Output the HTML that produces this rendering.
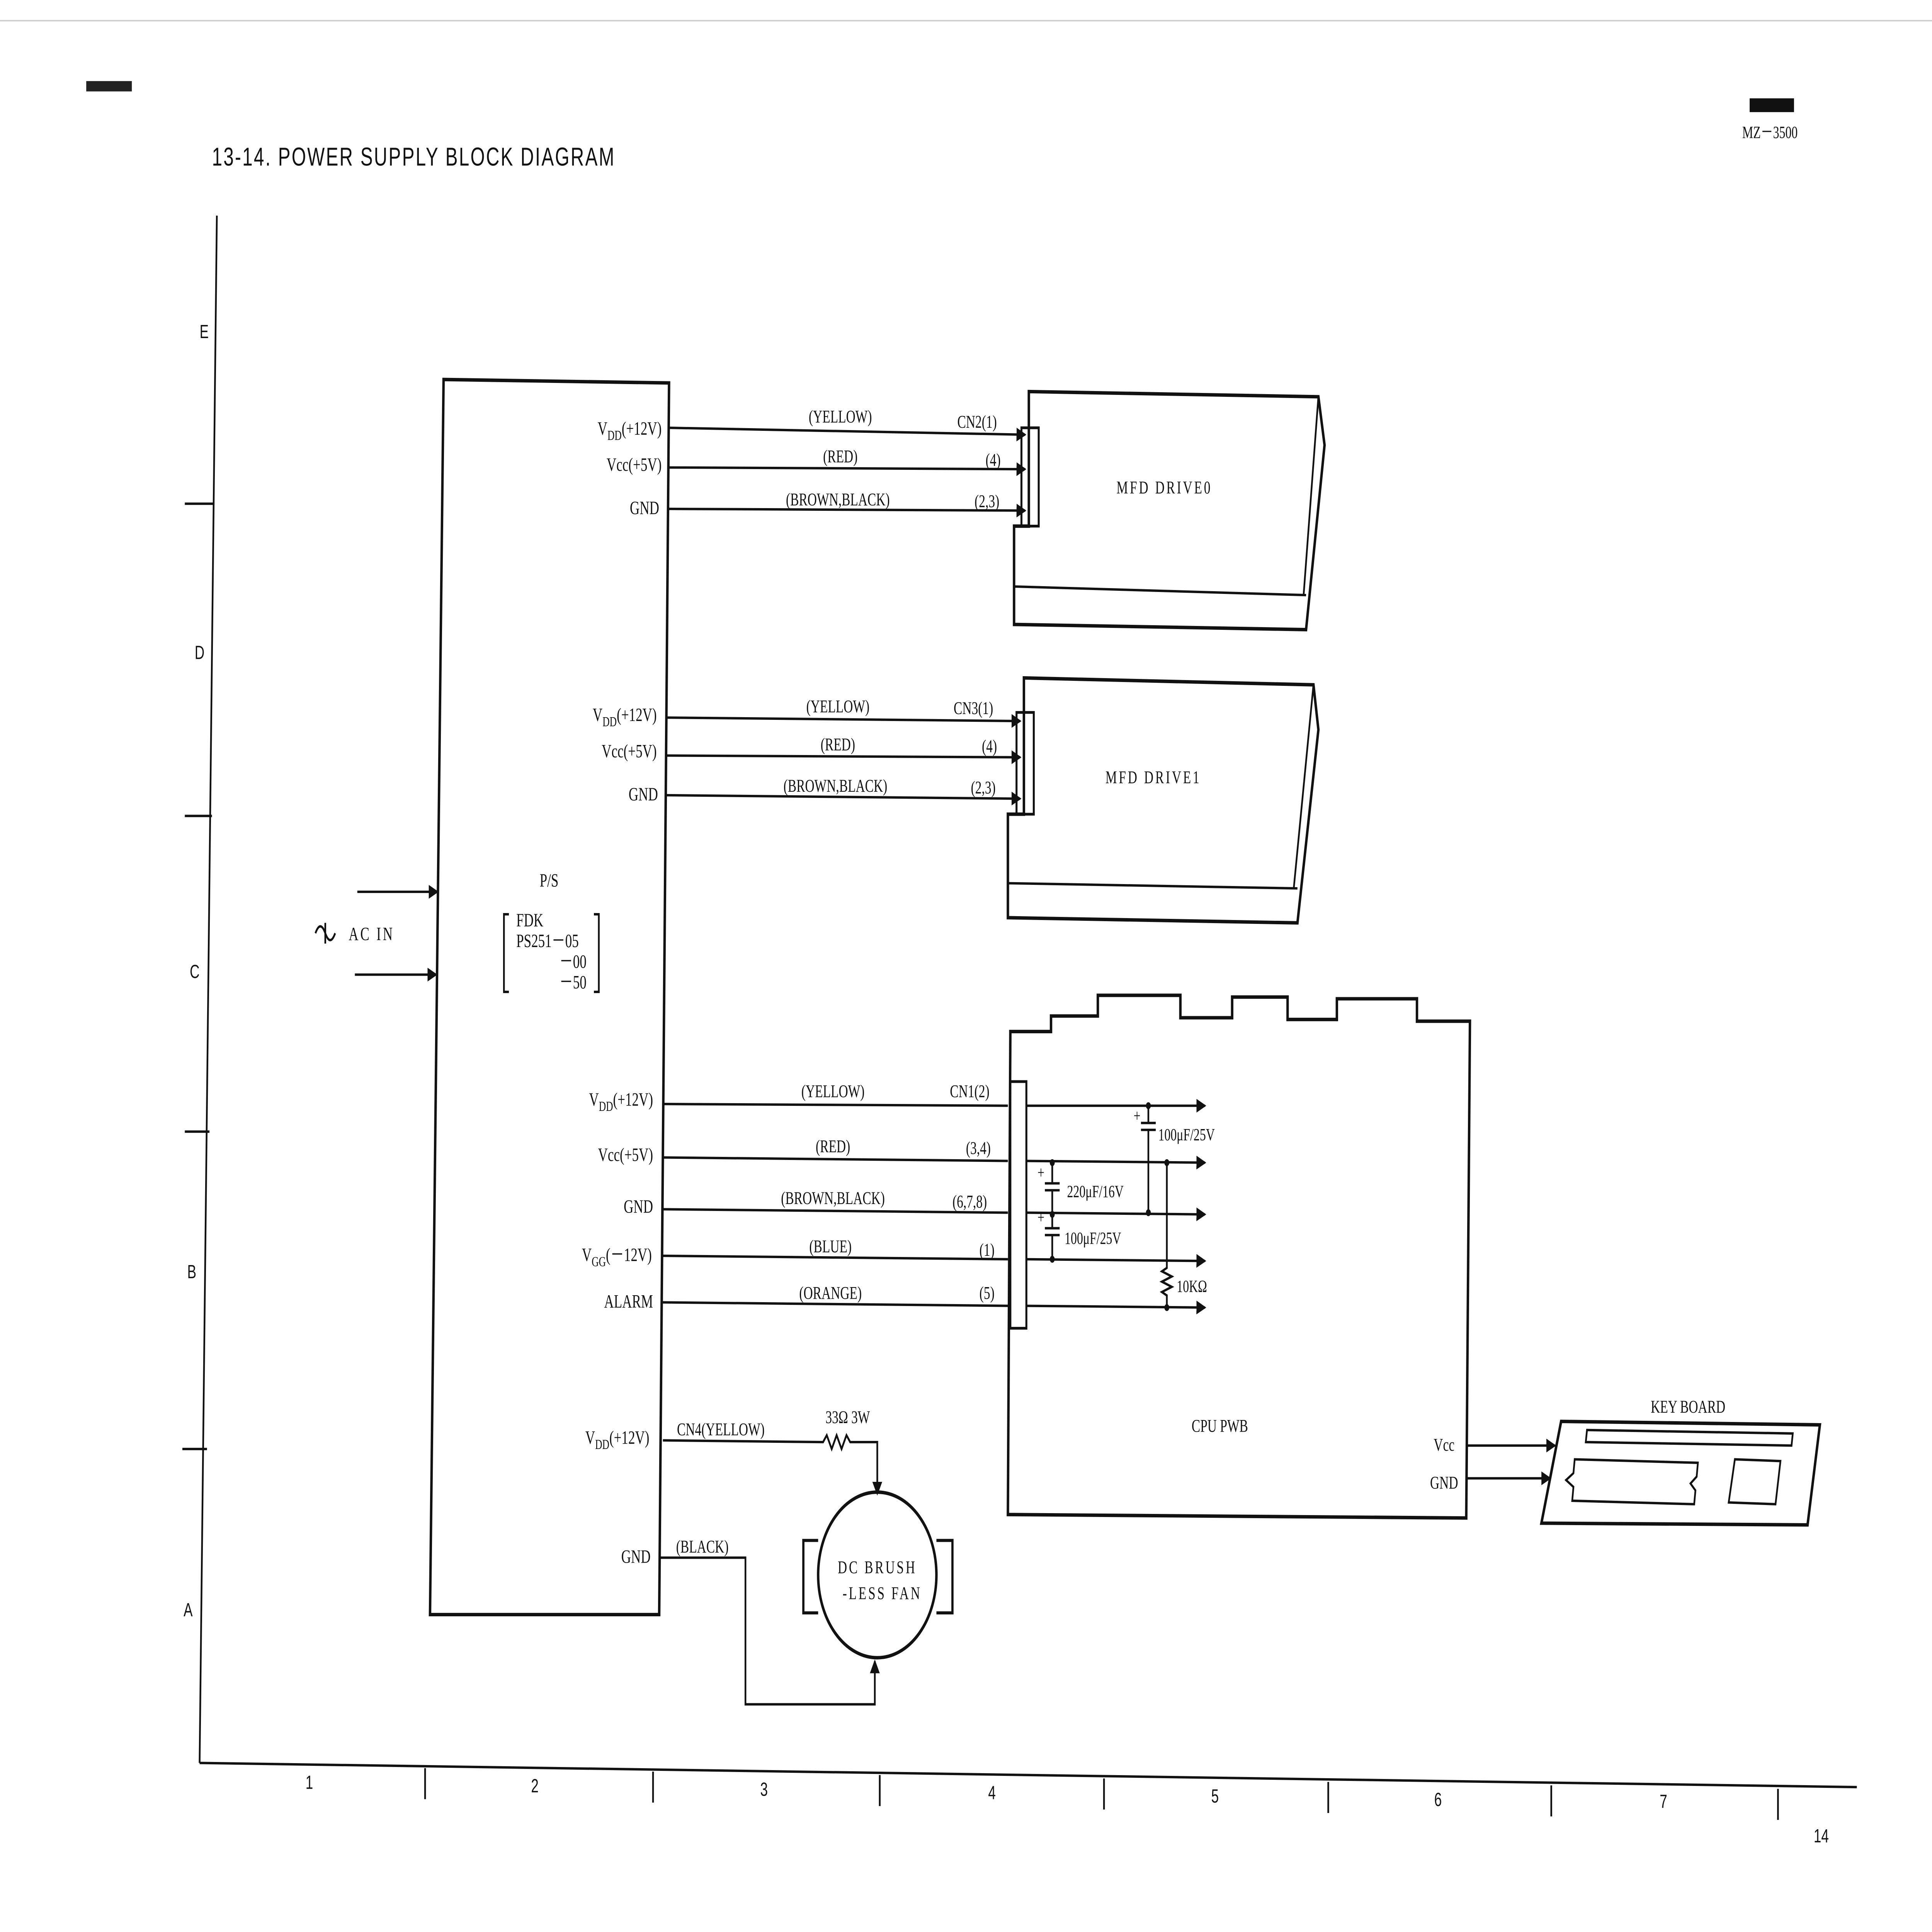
<!DOCTYPE html>
<html><head><meta charset="utf-8"><style>html,body{margin:0;padding:0;background:#fff;width:100%;height:100%;overflow:hidden}svg{display:block;position:fixed;left:0;top:0;width:100vw;height:100vh}</style></head><body>
<svg viewBox="0 0 1568 1120" preserveAspectRatio="none" xmlns="http://www.w3.org/2000/svg" font-family="'Liberation Serif',serif" fill="none" stroke="#111" stroke-width="1.4">
<defs><marker id="a" markerWidth="8" markerHeight="8" refX="7" refY="4" orient="auto" markerUnits="userSpaceOnUse"><path d="M0,0 L8,4 L0,8 Z" fill="#111" stroke="none"/></marker></defs>
<line x1="0" y1="12" x2="1568" y2="12" stroke="#ccc" stroke-width="0.8"/>
<rect x="70" y="47" width="37" height="6" fill="#222" stroke="none"/>
<rect x="1420" y="57" width="36" height="8" fill="#111" stroke="none"/>
<g fill="#111" stroke="none">
<text x="172" y="96" font-family="'Liberation Sans',sans-serif" font-size="15" letter-spacing="1">13-14. POWER SUPPLY BLOCK DIAGRAM</text>
<text x="1414" y="80" font-size="10">MZ－3500</text>
<g font-family="'Liberation Sans',sans-serif" font-size="11">
<text x="162" y="196">E</text><text x="158" y="382">D</text><text x="154" y="567">C</text><text x="152" y="741">B</text><text x="149" y="937">A</text>
<text x="248" y="1037">1</text><text x="431" y="1039">2</text><text x="617" y="1041">3</text><text x="802" y="1043">4</text><text x="983" y="1045">5</text><text x="1164" y="1047">6</text><text x="1347" y="1048">7</text><text x="1472" y="1068">14</text>
</g></g>
<line x1="176" y1="125" x2="162" y2="1022"/>
<line x1="162" y1="1022" x2="1507" y2="1036"/>
<g><line x1="150" y1="292" x2="174" y2="292"/><line x1="150" y1="473" x2="172" y2="473"/><line x1="150" y1="656" x2="170" y2="656"/><line x1="148" y1="840" x2="168" y2="840"/>
<line x1="345" y1="1025" x2="345" y2="1043"/><line x1="530" y1="1027" x2="530" y2="1045"/><line x1="714" y1="1029" x2="714" y2="1047"/><line x1="896" y1="1031" x2="896" y2="1049"/><line x1="1078" y1="1033" x2="1078" y2="1051"/><line x1="1259" y1="1035" x2="1259" y2="1053"/><line x1="1443" y1="1037" x2="1443" y2="1055"/></g>
<polygon points="360,220 543,222 535,936 349,936" stroke-width="2"/>
<g fill="#111" stroke="none" font-size="11">
<text x="438" y="514">P/S</text>
<text x="419" y="537">FDK</text><text x="419" y="549">PS251－05</text><text x="454" y="561">－00</text><text x="454" y="573">－50</text>
<text x="283" y="545" letter-spacing="1.5">AC IN</text>
</g>
<path d="M413,530 h-4 v45 h4 M482,530 h4 v45 h-4"/>
<path d="M256,541 q4,-8 8,0 t8,0 M264,535 v12"/>
<line x1="290" y1="517" x2="355" y2="517" marker-end="url(#a)"/>
<line x1="288" y1="565" x2="354" y2="565" marker-end="url(#a)"/>
<g fill="#111" stroke="none" font-size="11" text-anchor="end">
<text x="537" y="252">V<tspan font-size="8" dy="3">DD</tspan><tspan dy="-3">(+12V)</tspan></text><text x="537" y="273">Vcc(+5V)</text><text x="535" y="298">GND</text>
<text x="533" y="418">V<tspan font-size="8" dy="3">DD</tspan><tspan dy="-3">(+12V)</tspan></text><text x="533" y="439">Vcc(+5V)</text><text x="534" y="464">GND</text>
<text x="530" y="641">V<tspan font-size="8" dy="3">DD</tspan><tspan dy="-3">(+12V)</tspan></text><text x="530" y="673">Vcc(+5V)</text><text x="530" y="703">GND</text><text x="529" y="731">V<tspan font-size="8" dy="3">GG</tspan><tspan dy="-3">(－12V)</tspan></text><text x="530" y="758">ALARM</text>
<text x="527" y="837">V<tspan font-size="8" dy="3">DD</tspan><tspan dy="-3">(+12V)</tspan></text><text x="528" y="906">GND</text>
</g>
<g fill="#111" stroke="none" font-size="10.5" text-anchor="middle">
<text x="682" y="245">(YELLOW)</text><text x="682" y="268">(RED)</text><text x="680" y="293">(BROWN,BLACK)</text>
<text x="793" y="248">CN2(1)</text><text x="806" y="270">(4)</text><text x="801" y="294">(2,3)</text>
<text x="680" y="413">(YELLOW)</text><text x="680" y="435">(RED)</text><text x="678" y="459">(BROWN,BLACK)</text>
<text x="790" y="414">CN3(1)</text><text x="803" y="436">(4)</text><text x="798" y="460">(2,3)</text>
<text x="676" y="636">(YELLOW)</text><text x="676" y="668">(RED)</text><text x="676" y="698">(BROWN,BLACK)</text><text x="674" y="726">(BLUE)</text><text x="674" y="753">(ORANGE)</text>
<text x="787" y="636">CN1(2)</text><text x="794" y="669">(3,4)</text><text x="787" y="700">(6,7,8)</text><text x="801" y="728">(1)</text><text x="801" y="753">(5)</text>
<text x="585" y="832">CN4(YELLOW)</text><text x="570" y="900">(BLACK)</text><text x="688" y="825">33Ω 3W</text>
<text x="945" y="286" letter-spacing="1.5">MFD DRIVE0</text><text x="936" y="454" letter-spacing="1.5">MFD DRIVE1</text>
<text x="990" y="830">CPU PWB</text>
<text x="712" y="912" letter-spacing="1.5">DC BRUSH</text><text x="716" y="927" letter-spacing="1.5">-LESS FAN</text>
<text x="1370" y="819">KEY BOARD</text>
<text x="1172" y="841">Vcc</text><text x="1172" y="863">GND</text>
</g>
<g font-size="10" fill="#111" stroke="none"><text x="940" y="661">100μF/25V</text><text x="866" y="694">220μF/16V</text><text x="864" y="721">100μF/25V</text><text x="955" y="749">10KΩ</text></g>
<g marker-end="url(#a)">
<line x1="543" y1="248" x2="832" y2="252"/><line x1="543" y1="271" x2="832" y2="272"/><line x1="543" y1="295" x2="832" y2="296"/>
<line x1="541" y1="416" x2="828" y2="418"/><line x1="541" y1="438" x2="828" y2="439"/><line x1="541" y1="461" x2="828" y2="463"/>
</g>
<path d="M835,227 L1070,230 L1075,258 L1060,365 L823,362 L823,305 L835,305 Z" stroke-width="2"/>
<path d="M823,340 L1060,345 M1070,230 L1058,345"/>
<rect x="829" y="248" width="14" height="57" stroke-width="1.6"/>
<path d="M831,393 L1066,397 L1070,423 L1053,535 L818,532 L818,472 L831,472 Z" stroke-width="2"/>
<path d="M818,512 L1053,515 M1066,397 L1050,515"/>
<rect x="825" y="413" width="14" height="59" stroke-width="1.6"/>
<path d="M820,598 L853,598 L853,589 L891,589 L891,577 L958,577 L958,590 L1000,590 L1000,578 L1045,578 L1045,591 L1085,591 L1085,579 L1150,579 L1150,592 L1193,592 L1190,880 L818,878 Z" stroke-width="2"/>
<rect x="820" y="627" width="13" height="143" stroke-width="1.6"/>
<g>
<line x1="538" y1="640" x2="818" y2="641"/><line x1="538" y1="671" x2="818" y2="673"/><line x1="538" y1="701" x2="818" y2="703"/><line x1="538" y1="728" x2="818" y2="730"/><line x1="538" y1="755" x2="818" y2="757"/>
</g>
<g marker-end="url(#a)">
<line x1="833" y1="641" x2="978" y2="641"/><line x1="833" y1="673" x2="978" y2="674"/><line x1="833" y1="703" x2="978" y2="704"/><line x1="833" y1="730" x2="978" y2="731"/><line x1="833" y1="757" x2="978" y2="758"/>
</g>
<path d="M932,641 V651 M926,651 h12 M926,655 h12 M932,655 V703"/>
<path d="M947,674 V735 l-4,2 8,3 -8,3 8,3 -8,3 4,2 V758"/>
<path d="M854,674 V686 M848,686 h12 M848,690 h12 M854,690 V712 M848,712 h12 M848,716 h12 M854,716 V730"/>
<g fill="#111" stroke="none"><circle cx="932" cy="641" r="2"/><circle cx="932" cy="703" r="2"/><circle cx="947" cy="674" r="2"/><circle cx="947" cy="758" r="2"/><circle cx="854" cy="674" r="2"/><circle cx="854" cy="704" r="2"/><circle cx="854" cy="730" r="2"/></g>
<g font-size="10" fill="#111" stroke="none"><text x="920" y="650">+</text><text x="842" y="683">+</text><text x="842" y="709">+</text></g>
<path d="M538,835 L668,836 l3,-4 4,8 4,-8 4,8 4,-8 3,4 L712,836 V866" marker-end="url(#a)"/>
<path d="M535,903 H605 V988 H710 V963" marker-end="url(#a)"/>
<circle cx="712" cy="913" r="48" stroke-width="2"/>
<path d="M664,893 H652 V935 H664 M760,893 H773 V935 H760" stroke-width="1.8"/>
<line x1="1190" y1="838" x2="1262" y2="838" marker-end="url(#a)"/>
<line x1="1190" y1="857" x2="1258" y2="857" marker-end="url(#a)"/>
<polygon points="1267,824 1477,826 1467,884 1251,883" stroke-width="2"/>
<polygon points="1288,829 1455,831 1454,838 1287,836"/>
<path d="M1278,846 L1378,848 L1377,856 L1372,860 L1376,864 L1375,872 L1276,870 L1277,862 L1271,858 L1277,854 Z"/>
<polygon points="1408,846 1445,847 1441,872 1403,871"/>
</svg>
</body></html>
